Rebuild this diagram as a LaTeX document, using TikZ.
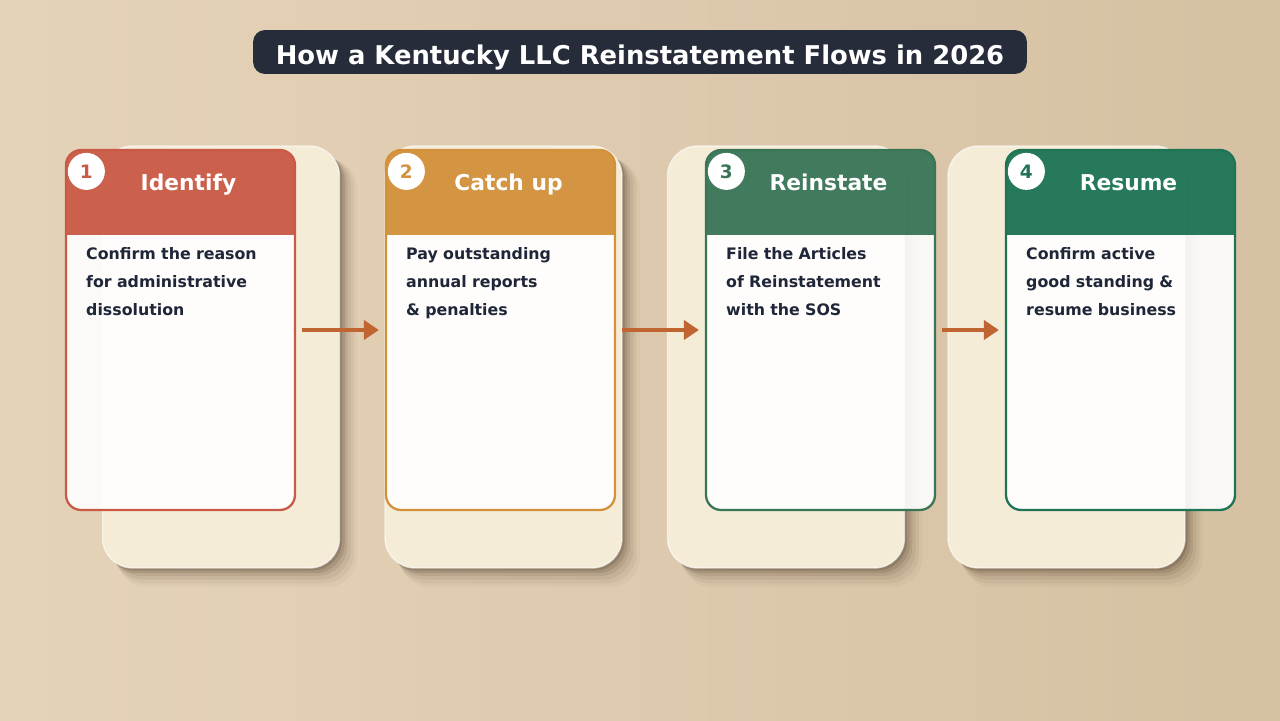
\documentclass[tikz,border=0pt]{standalone}
\usepackage{fontspec}
\setmainfont{DejaVu Sans}
\usetikzlibrary{arrows.meta,positioning,calc,shadows}
\definecolor{BgLight}{RGB}{229,211,185}
\definecolor{BgDark}{RGB}{214,192,162}
\definecolor{CardCream}{RGB}{245,236,216}
\definecolor{TitleInk}{RGB}{38,44,58}
\definecolor{BodyInk}{RGB}{30,38,56}
\definecolor{StepRed}{RGB}{201,90,70}
\definecolor{StepOrange}{RGB}{211,145,60}
\definecolor{StepGreen}{RGB}{58,117,86}
\definecolor{StepTeal}{RGB}{30,116,84}
\definecolor{FlowArrow}{RGB}{192,100,50}
\colorlet{ShadowInk}{black!70!brown}

\tikzset{
  backcard/.style={fill=CardCream,draw=white,draw opacity=0.6,line width=0.8pt,
    rounded corners=0.6cm,minimum width=4.74cm,minimum height=8.44cm,inner sep=0pt,
    drop shadow={shadow xshift=1.5pt,shadow yshift=-1.5pt,opacity=0.18,fill=ShadowInk},
    drop shadow={shadow xshift=3pt,shadow yshift=-3pt,opacity=0.12,fill=ShadowInk},
    drop shadow={shadow xshift=4.5pt,shadow yshift=-4.5pt,opacity=0.09,fill=ShadowInk},
    drop shadow={shadow xshift=6pt,shadow yshift=-6pt,shadow scale=1.005,opacity=0.07,fill=ShadowInk},
    drop shadow={shadow xshift=7.5pt,shadow yshift=-7.5pt,shadow scale=1.01,opacity=0.05,fill=ShadowInk},
    drop shadow={shadow xshift=9pt,shadow yshift=-9pt,shadow scale=1.015,opacity=0.035,fill=ShadowInk}},
  stepcard/.style={draw=#1,line width=1.3pt,fill=white,fill opacity=0.9,
    rounded corners=0.3cm,minimum width=4.58cm,minimum height=7.2cm,inner sep=0pt,
    path picture={\fill[#1,sharp corners,fill opacity=0.96] (path picture bounding box.north west) rectangle
      ([yshift=-1.7cm]path picture bounding box.north east);}},
  stepnum/.style={circle,fill=white,text=#1,minimum size=0.74cm,inner sep=0pt,
    font=\fontsize{10.5}{12}\selectfont\bfseries},
  steptitle/.style={anchor=base,text=white,font=\fontsize{12.4}{14}\selectfont\bfseries},
  steptext/.style={anchor=north west,text=BodyInk,text width=4.1cm,align=left,inner sep=0pt,
    font=\fontsize{9}{15.9}\selectfont\bfseries},
  flow/.style={draw=FlowArrow,line width=2.2pt,-{Triangle[length=0.3cm,width=0.38cm]}}
}

\begin{document}
\begin{tikzpicture}[x=0.02cm,y=-0.02cm]
  % backdrop
  \shade[left color=BgLight,right color=BgDark] (0,0) rectangle (1280,720);
  \useasboundingbox (0,0) rectangle (1280,720);

  \node[fill=TitleInk,rounded corners=0.24cm,minimum width=15.48cm,minimum height=0.88cm,
    inner sep=0pt,text height=14.6pt,text depth=0pt,text=white,
    font=\fontsize{14.7}{17}\selectfont\bfseries] (headline) at (640,52)
    {How a Kentucky LLC Reinstatement Flows in 2026};

  % cream cards behind
  \node[backcard] (b1) at (221,357) {};
  \node[backcard] (b2) at (503.5,357) {};
  \node[backcard] (b3) at (786,357) {};
  \node[backcard] (b4) at (1066.5,357) {};

  % step cards
  \node[stepcard=StepRed] (c1) at (180.5,330) {};
  \node[stepcard=StepOrange] (c2) at (500.5,330) {};
  \node[stepcard=StepGreen] (c3) at (820.5,330) {};
  \node[stepcard=StepTeal] (c4) at (1120.5,330) {};

  \node[stepnum=StepRed] (n1) at ([xshift=0.43cm,yshift=-0.45cm]c1.north west) {1};
  \node[stepnum=StepOrange] (n2) at ([xshift=0.43cm,yshift=-0.45cm]c2.north west) {2};
  \node[stepnum=StepGreen] (n3) at ([xshift=0.43cm,yshift=-0.45cm]c3.north west) {3};
  \node[stepnum=StepTeal] (n4) at ([xshift=0.43cm,yshift=-0.45cm]c4.north west) {4};

  \node[steptitle] (h1) at ([xshift=0.16cm,yshift=-0.84cm]c1.north) {Identify};
  \node[steptitle] (h2) at ([xshift=0.16cm,yshift=-0.84cm]c2.north) {Catch up};
  \node[steptitle] (h3) at ([xshift=0.16cm,yshift=-0.84cm]c3.north) {Reinstate};
  \node[steptitle] (h4) at ([xshift=0.16cm,yshift=-0.84cm]c4.north) {Resume};

  \node[steptext] (t1) at ([xshift=0.42cm,yshift=-1.97cm]c1.north west)
    {Confirm the reason\\for administrative\\dissolution};
  \node[steptext] (t2) at ([xshift=0.42cm,yshift=-1.97cm]c2.north west)
    {Pay outstanding\\annual reports\\\& penalties};
  \node[steptext] (t3) at ([xshift=0.42cm,yshift=-1.97cm]c3.north west)
    {File the Articles\\of Reinstatement\\with the SOS};
  \node[steptext] (t4) at ([xshift=0.42cm,yshift=-1.97cm]c4.north west)
    {Confirm active\\good standing \&\\resume business};

  % flow
  \draw[flow] ([xshift=0.12cm]c1.east) -- ([xshift=-0.12cm]c2.west);
  \draw[flow] ([xshift=0.12cm]c2.east) -- ([xshift=-0.12cm]c3.west);
  \draw[flow] ([xshift=0.12cm]c3.east) -- ([xshift=-0.12cm]c4.west);
\end{tikzpicture}
\end{document}
